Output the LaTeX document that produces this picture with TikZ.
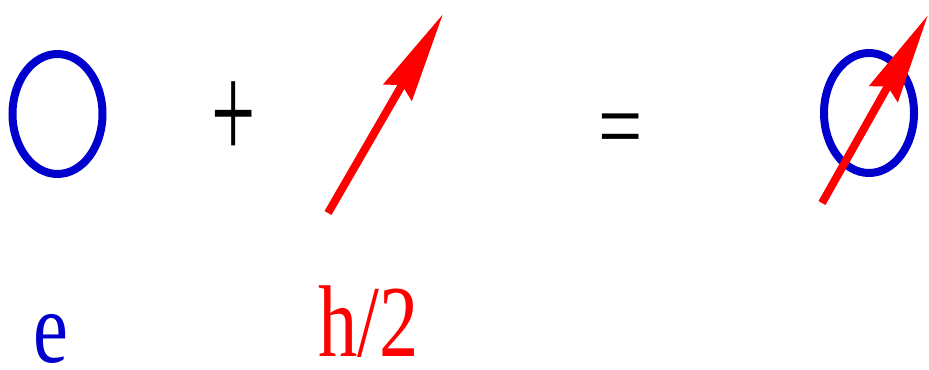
\documentclass[tikz,border=0pt]{standalone}
\usepackage{graphicx}
\usepackage{fontspec}
\setmainfont{Liberation Serif}
\newfontfamily\narrowserif[FakeStretch=0.77]{Liberation Serif}
\usetikzlibrary{shapes.geometric, arrows.meta, positioning}
\definecolor{ringblue}{RGB}{0,0,204}

\begin{document}
\begin{tikzpicture}[x=0.5pt, y=-0.5pt,
    ring/.style={ellipse, draw=ringblue, line width=4pt, minimum width=45pt, minimum height=60pt, inner sep=0pt},
    spin/.style={-{Stealth[length=45pt, width=16pt, inset=4pt]}, line width=4pt, red},
    big/.style={font=\narrowserif\fontsize{51}{60}\selectfont, inner sep=0pt, anchor=base}
]
    \useasboundingbox (0,0) rectangle (929,369);

    % electron
    \node[ring] (electron) at (57.5,114) {};
    \node[big, text=ringblue] (elabel) at (51,362) {e};

    \node[big] (plus) at (233.5,159) {\scalebox{1}[1.35]{+}};

    % spin
    \coordinate (spintail) at (328,213);
    \coordinate (spintip) at (443,14);
    \draw[spin] (spintail) -- (spintip);
    \node[big, text=red] (hlabel) at (368.5,356) {h/2};

    \node[big] (equals) at (620.5,160) {=};

    % electron with spin
    \node[ring] (result) at (869,113) {};
    \coordinate (resulttail) at (822,203);
    \coordinate (resulttip) at (928,15);
    \draw[spin] (resulttail) -- (resulttip);
\end{tikzpicture}
\end{document}
